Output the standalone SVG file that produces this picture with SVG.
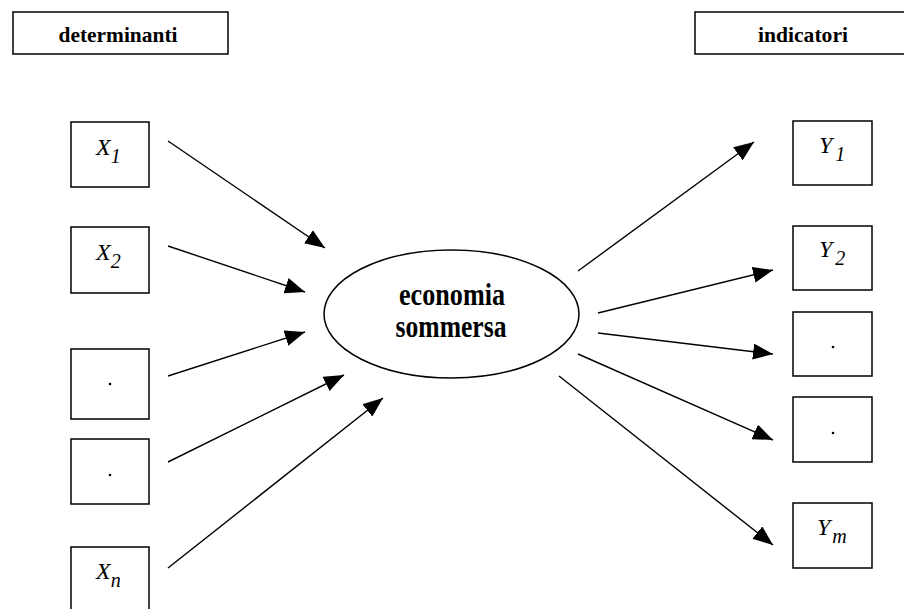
<svg xmlns="http://www.w3.org/2000/svg" width="904" height="609" viewBox="0 0 904 609">
<style>
  .box { fill: #fff; stroke: #000; stroke-width: 1.5; }
  .conn { stroke: #000; stroke-width: 1.4; fill: none; marker-end: url(#ah); }
  .dot { fill: #000; }
</style>
<defs>
  <marker id="ah" markerUnits="userSpaceOnUse" markerWidth="20" markerHeight="16" refX="20" refY="8" orient="auto" viewBox="0 0 20 16">
    <path d="M0,0 L20,8 L0,16 Z" fill="#000"/>
  </marker>
</defs>
<rect width="904" height="609" fill="#fff"/>

<g id="determinanti">
  <rect class="box" x="13" y="12" width="215" height="42"/>
  <text x="118" y="42" font-family="Liberation Serif" font-weight="bold" font-size="21" text-anchor="middle" textLength="119" lengthAdjust="spacingAndGlyphs">determinanti</text>
</g>
<g id="indicatori">
  <rect class="box" x="695" y="12" width="210" height="42"/>
  <text x="803" y="42" font-family="Liberation Serif" font-weight="bold" font-size="21" text-anchor="middle" textLength="90" lengthAdjust="spacingAndGlyphs">indicatori</text>
</g>

<g id="X1">
  <rect class="box" x="71" y="122" width="78" height="65"/>
  <text x="96" y="155" font-family="Liberation Serif" font-style="italic" font-size="24">X<tspan font-size="20" dy="8">1</tspan></text>
</g>
<g id="X2">
  <rect class="box" x="71" y="227" width="78" height="66"/>
  <text x="96" y="260" font-family="Liberation Serif" font-style="italic" font-size="24">X<tspan font-size="20" dy="8">2</tspan></text>
</g>
<g id="Xdot1">
  <rect class="box" x="71" y="349" width="78" height="70"/>
  <circle class="dot" cx="110" cy="384" r="1.3"/>
</g>
<g id="Xdot2">
  <rect class="box" x="71" y="439" width="78" height="65"/>
  <circle class="dot" cx="110" cy="475" r="1.3"/>
</g>
<g id="Xn">
  <rect class="box" x="71" y="547" width="78" height="70"/>
  <text x="96" y="579" font-family="Liberation Serif" font-style="italic" font-size="24">X<tspan font-size="20" dy="8">n</tspan></text>
</g>

<g id="Y1">
  <rect class="box" x="793" y="121" width="79" height="64"/>
  <text x="819" y="153" font-family="Liberation Serif" font-style="italic" font-size="24">Y<tspan font-size="20" dx="3" dy="8">1</tspan></text>
</g>
<g id="Y2">
  <rect class="box" x="793" y="226" width="79" height="64"/>
  <text x="819" y="257" font-family="Liberation Serif" font-style="italic" font-size="24">Y<tspan font-size="20" dx="3" dy="8">2</tspan></text>
</g>
<g id="Ydot1">
  <rect class="box" x="793" y="312" width="79" height="64"/>
  <circle class="dot" cx="833" cy="347" r="1.3"/>
</g>
<g id="Ydot2">
  <rect class="box" x="793" y="397" width="79" height="65"/>
  <circle class="dot" cx="833" cy="433" r="1.3"/>
</g>
<g id="Ym">
  <rect class="box" x="793" y="503" width="79" height="65"/>
  <text x="817" y="535" font-family="Liberation Serif" font-style="italic" font-size="24">Y<tspan font-size="20" dx="2" dy="8">m</tspan></text>
</g>

<g id="economia_sommersa">
  <ellipse class="box" cx="451.5" cy="314" rx="127.5" ry="64"/>
  <text x="452" y="305" font-family="Liberation Serif" font-weight="bold" font-size="31" text-anchor="middle" textLength="106" lengthAdjust="spacingAndGlyphs">economia</text>
  <text x="451" y="337" font-family="Liberation Serif" font-weight="bold" font-size="31" text-anchor="middle" textLength="111" lengthAdjust="spacingAndGlyphs">sommersa</text>
</g>

<g id="connectors">
  <line class="conn" x1="168" y1="141" x2="325" y2="248"/>
  <line class="conn" x1="168" y1="246" x2="305" y2="292"/>
  <line class="conn" x1="168" y1="376" x2="305" y2="332"/>
  <line class="conn" x1="168" y1="462" x2="344" y2="375"/>
  <line class="conn" x1="168" y1="568" x2="383" y2="398"/>
  <line class="conn" x1="578" y1="271" x2="754" y2="142"/>
  <line class="conn" x1="598" y1="313" x2="773" y2="270"/>
  <line class="conn" x1="598" y1="333" x2="773" y2="354"/>
  <line class="conn" x1="578" y1="354" x2="773" y2="440"/>
  <line class="conn" x1="559" y1="376" x2="773" y2="545"/>
</g>
</svg>
